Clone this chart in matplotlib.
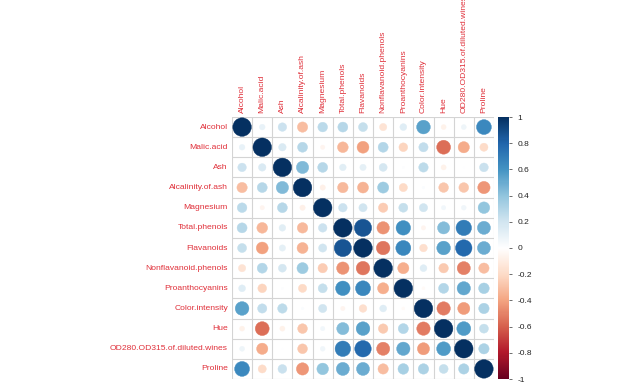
import numpy as np
import matplotlib
matplotlib.use("Agg")
import matplotlib.pyplot as plt
import matplotlib.colors as mcolors
from matplotlib.patches import Circle

plt.rcParams['font.family'] = ['Liberation Sans', 'DejaVu Sans']

# Variable names (row and column order)
labels = ["Alcohol", "Malic.acid", "Ash", "Alcalinity.of.ash", "Magnesium",
          "Total.phenols", "Flavanoids", "Nonflavanoid.phenols", "Proanthocyanins",
          "Color.intensity", "Hue", "OD280.OD315.of.diluted.wines", "Proline"]

# Correlation values, one list per row
alcohol     = [1.000, 0.094, 0.212, -0.310, 0.271, 0.289, 0.237, -0.156, 0.137, 0.546, -0.072, 0.072, 0.644]
malic       = [0.094, 1.000, 0.164, 0.289, -0.055, -0.335, -0.411, 0.293, -0.221, 0.249, -0.561, -0.369, -0.192]
ash         = [0.212, 0.164, 1.000, 0.443, 0.287, 0.129, 0.115, 0.186, 0.010, 0.259, -0.075, 0.004, 0.224]
alcalinity  = [-0.310, 0.289, 0.443, 1.000, -0.083, -0.321, -0.351, 0.362, -0.197, 0.019, -0.274, -0.277, -0.441]
magnesium   = [0.271, -0.055, 0.287, -0.083, 1.000, 0.214, 0.196, -0.256, 0.237, 0.200, 0.055, 0.066, 0.393]
phenols     = [0.289, -0.335, 0.129, -0.321, 0.214, 1.000, 0.865, -0.450, 0.612, -0.055, 0.434, 0.700, 0.498]
flavanoids  = [0.237, -0.411, 0.115, -0.351, 0.196, 0.865, 1.000, -0.538, 0.653, -0.172, 0.543, 0.787, 0.494]
nonflav     = [-0.156, 0.293, 0.186, 0.362, -0.256, -0.450, -0.538, 1.000, -0.366, 0.139, -0.263, -0.503, -0.311]
proanth     = [0.137, -0.221, 0.010, -0.197, 0.237, 0.612, 0.653, -0.366, 1.000, -0.025, 0.296, 0.519, 0.330]
color_int   = [0.546, 0.249, 0.259, 0.019, 0.200, -0.055, -0.172, 0.139, -0.025, 1.000, -0.522, -0.429, 0.316]
hue         = [-0.072, -0.561, -0.075, -0.274, 0.055, 0.434, 0.543, -0.263, 0.296, -0.522, 1.000, 0.565, 0.236]
od280       = [0.072, -0.369, 0.004, -0.277, 0.066, 0.700, 0.787, -0.503, 0.519, -0.429, 0.565, 1.000, 0.313]
proline     = [0.644, -0.192, 0.224, -0.441, 0.393, 0.498, 0.494, -0.311, 0.330, 0.316, 0.236, 0.313, 1.000]

corr = np.array([alcohol, malic, ash, alcalinity, magnesium, phenols, flavanoids,
                 nonflav, proanth, color_int, hue, od280, proline])

cbar_ticks = [-1, -0.8, -0.6, -0.4, -0.2, 0, 0.2, 0.4, 0.6, 0.8, 1]

# corrplot style red-blue palette
cmap = mcolors.LinearSegmentedColormap.from_list(
    "rdbu", ["#67001F", "#B2182B", "#D6604D", "#F4A582", "#FDDBC7", "#FFFFFF",
             "#D1E5F0", "#92C5DE", "#4393C3", "#2166AC", "#053061"])
norm = mcolors.Normalize(vmin=-1, vmax=1)
label_col = "#E0303A"

n = len(labels)
fig = plt.figure(figsize=(6.2, 3.85), dpi=100)
ax = fig.add_axes([232 / 620, 1 - 379 / 385, 262 / 620, 262 / 385])

for i in range(n):
    for j in range(n):
        r = corr[i, j]
        c = cmap(norm(r))
        ax.add_patch(Circle((j + 0.5, i + 0.5), 0.46 * np.sqrt(abs(r)),
                            facecolor=c, edgecolor=c, linewidth=0.3))

# grid
for k in range(n + 1):
    ax.axhline(k, color="#D4D4D4", linewidth=0.8, zorder=0)
    ax.axvline(k, color="#D4D4D4", linewidth=0.8, zorder=0)

ax.set_xlim(0, n)
ax.set_ylim(n, 0)
ax.set_aspect("auto")
ax.set_xticks([])
ax.set_yticks([])
for s in ax.spines.values():
    s.set_visible(False)

for k, lab in enumerate(labels):
    ax.text(-0.2, k + 0.5, lab, ha="right", va="center", fontsize=6.1, color=label_col)
    ax.text(k + 0.5, -0.2, lab, ha="center", va="bottom", rotation=90,
            fontsize=6.1, color=label_col)

# colorbar
cax = fig.add_axes([498 / 620, 1 - 379 / 385, 11 / 620, 262 / 385])
sm = matplotlib.cm.ScalarMappable(norm=norm, cmap=cmap)
cb = fig.colorbar(sm, cax=cax, ticks=cbar_ticks)
cb.outline.set_visible(False)
cb.ax.set_yticklabels([f"{t:g}" for t in cbar_ticks])
cb.ax.tick_params(labelsize=6, length=2, width=0.6, color="#555555", labelcolor="#222222", pad=4)

fig.savefig("out.png", dpi=100)
